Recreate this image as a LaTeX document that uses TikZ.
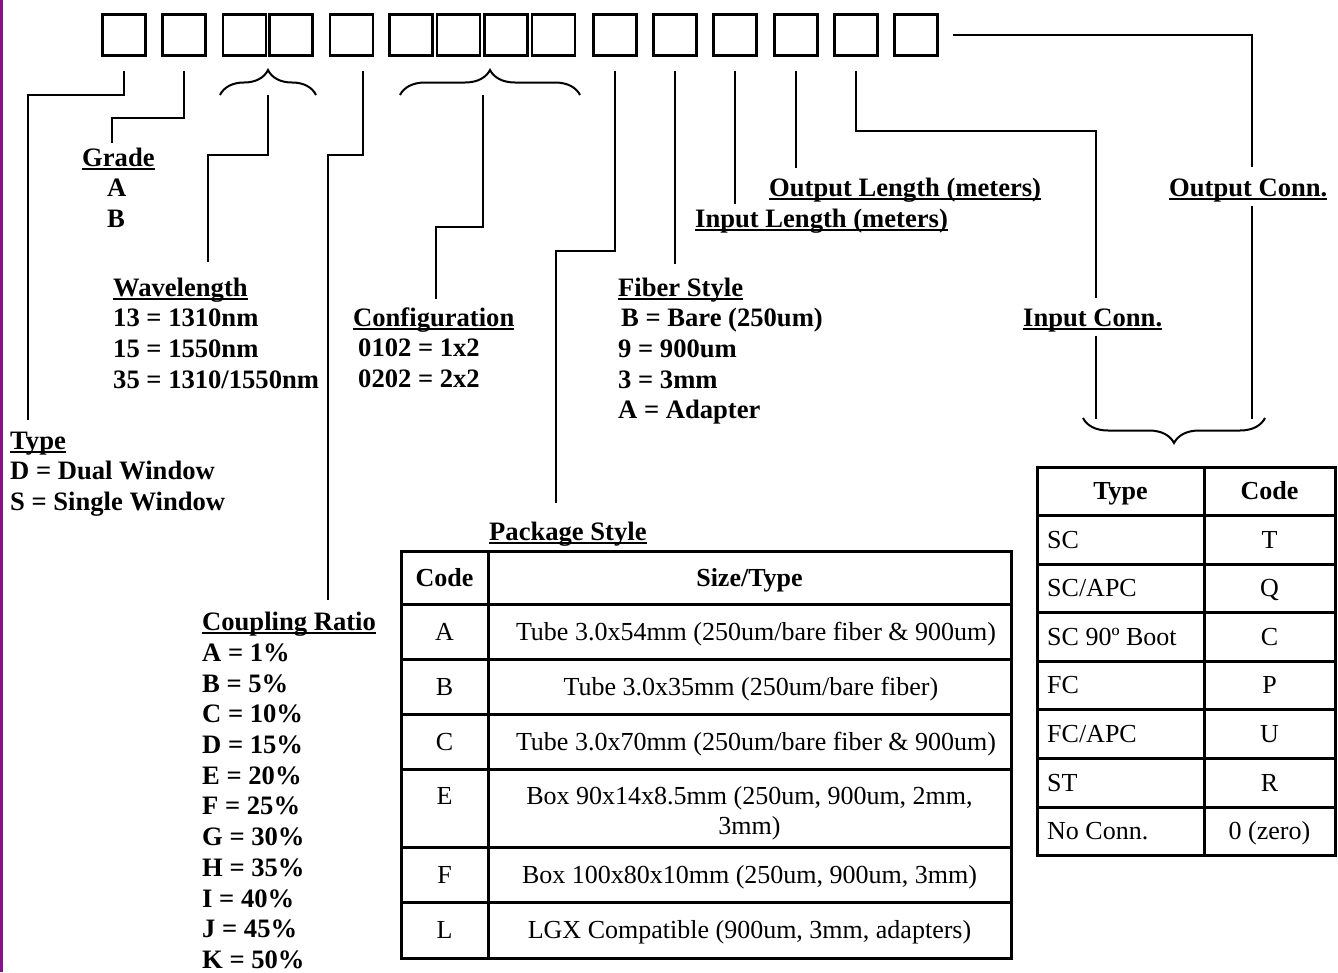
\documentclass[tikz,border=0pt]{standalone}
\usepackage{fontspec}
\setmainfont{Liberation Serif}
\usetikzlibrary{decorations.pathreplacing,positioning}

\definecolor{pagebar}{RGB}{136,16,140}
\newcommand{\lblfont}{\fontsize{26.6}{30.7}\selectfont\bfseries}
\newcommand{\cellfont}{\fontsize{26}{30}\selectfont}
\newcommand{\hdr}[1]{\setbox0\hbox{#1}\rlap{\rule[-3.5pt]{\wd0}{2pt}}\box0}

\begin{document}
\begin{tikzpicture}[x=1pt, y=-1pt,
    digit/.style={draw, line width=2.8pt, minimum width=43pt, minimum height=41pt, inner sep=0},
    lead/.style={line width=2pt},
    brc/.style={line width=2pt, decorate, decoration={brace, amplitude=25pt}},
    lbl/.style={anchor=north west, inner sep=0, align=left, font=\lblfont},
    tbl/.style={line width=3pt},
    cell/.style={anchor=base, inner sep=0, font=\cellfont},
    left cell/.style={anchor=base west, inner sep=0, font=\cellfont}]
                \useasboundingbox (0,0) rectangle (1338,972);
                \fill[pagebar] (0,0) rectangle (3,972);

                % part number boxes
                \foreach \n/\x in {1/124, 2/184, 3/244.5, 4/291, 5/351.5, 6/411, 7/458.5, 8/506, 9/553.5,
                                   10/615, 11/675, 12/735, 13/796, 14/856, 15/916}
                    \node[digit] (b\n) at (\x,35) {};

                % labels
                \node[lbl] (lGrade) at (82,144.5) {\strut\hdr{Grade}\\\hspace*{25pt}A\\\hspace*{25pt}B};
                \node[lbl] (lWave) at (113,274.5) {\strut\hdr{Wavelength}\\13 = 1310nm\\15 = 1550nm\\35 = 1310/1550nm};
                \node[lbl] (lConfig) at (353,304.5) {\strut\hdr{Configuration}\\\hspace*{5pt}0102 = 1x2\\\hspace*{5pt}0202 = 2x2};
                \node[lbl] (lFiber) at (618,274.5) {\strut\hdr{Fiber Style}\\\hspace*{3pt}B = Bare (250um)\\9 = 900um\\3 = 3mm\\A = Adapter};
                \node[lbl] (lOutLen) at (769,174.5) {\strut\hdr{Output Length (meters)}};
                \node[lbl] (lInLen) at (695,205.5) {\strut\hdr{Input Length (meters)}};
                \node[lbl] (lInConn) at (1023,304.5) {\strut\hdr{Input Conn.}};
                \node[lbl] (lOutConn) at (1169,174.5) {\strut\hdr{Output Conn.}};
                \node[lbl] (lType) at (10,427.5) {\strut\hdr{Type}\\D = Dual Window\\S = Single Window};
                \node[lbl] (lPack) at (489,518.5) {\strut\hdr{Package Style}};
                \node[lbl] (lRatio) at (202,609) {\strut\hdr{Coupling Ratio}\\A = 1\%\\B = 5\%\\C = 10\%\\D = 15\%\\E = 20\%\\F = 25\%\\G = 30\%\\H = 35\%\\I = 40\%\\J = 45\%\\K = 50\%};

                % braces
                \draw[brc] (220,95) -- (316,95);
                \draw[brc] (400,95) -- (580,95);
                \draw[brc] (1265,418) -- (1083,418);

                % leads
                \draw[lead] ([yshift=-14pt]b1.south) |- (28,95) -- (28,420);
                \draw[lead] ([yshift=-14pt]b2.south) |- (112,118) -- (112,143);
                \draw[lead] (b4.south west |- 0,95) |- (208,155) -- (208,262);
                \draw[lead] ([xshift=11.5pt, yshift=-14pt]b5.south) |- (328,155) -- (328,600);
                \draw[lead] (b8.south west |- 0,95) |- (436,227) -- (436,299);
                \draw[lead] ([yshift=-14pt]b10.south) |- (556,251) -- (556,503);
                \draw[lead] ([yshift=-14pt]b11.south) -- ++(0,193);
                \draw[lead] ([yshift=-14pt]b12.south) -- ++(0,133);
                \draw[lead] ([yshift=-14pt]b13.south) -- ++(0,97);
                \draw[lead] ([yshift=-14pt]b14.south) |- (1096,131) -- (1096,298);
                \draw[lead] (lInConn.south -| 1096,0) -- (1096,419);
                \draw[lead] ([xshift=14pt]b15.east) -| (1252,167);
                \draw[lead] (lOutConn.south -| 1252,0) -- (1252,419);

                % package style table
                \draw[tbl] (401,551) rectangle (1011,958);
                \draw[tbl] (488,551) -- (488,958);
                \foreach \y in {604,659,714,769,847,902}
                    \draw[tbl] (401,\y) -- (1011,\y);
                \node[cell, font=\cellfont\bfseries] (pCode) at (444.5,586) {Code};
                \node[cell, font=\cellfont\bfseries] (pSize) at (749.5,586) {Size/Type};
                \node[cell] (pA) at (444.5,640) {A};
                \node[cell] (pAt) at (756,640) {Tube 3.0x54mm (250um/bare fiber \& 900um)};
                \node[cell] (pB) at (444.5,695) {B};
                \node[cell] (pBt) at (751,695) {Tube 3.0x35mm (250um/bare fiber)};
                \node[cell] (pC) at (444.5,750) {C};
                \node[cell] (pCt) at (756,750) {Tube 3.0x70mm (250um/bare fiber \& 900um)};
                \node[cell] (pE) at (444.5,804.5) {E};
                \node[cell, anchor=north, align=center] (pEt) at (749.5,783.5) {\strut Box 90x14x8.5mm (250um, 900um, 2mm,\\3mm)};
                \node[cell] (pF) at (444.5,883) {F};
                \node[cell] (pFt) at (749.5,883) {Box 100x80x10mm (250um, 900um, 3mm)};
                \node[cell] (pL) at (444.5,938.5) {L};
                \node[cell] (pLt) at (749.5,938.5) {LGX Compatible (900um, 3mm, adapters)};

                % connector table
                \draw[tbl] (1037,467) rectangle (1335,855);
                \draw[tbl] (1204,467) -- (1204,855);
                \foreach \y in {515,564,612,661,709,758,807}
                    \draw[tbl] (1037,\y) -- (1335,\y);
                \node[cell, font=\cellfont\bfseries] (cType) at (1120.5,499.5) {Type};
                \node[cell, font=\cellfont\bfseries] (cCode) at (1269.5,499.5) {Code};
                \node[left cell] (cSC) at (1047,548) {SC};
                \node[cell] (cSCc) at (1269.5,548) {T};
                \node[left cell] (cSCA) at (1047,596.5) {SC/APC};
                \node[cell] (cSCAc) at (1269.5,596.5) {Q};
                \node[left cell] (cSC90) at (1047,645) {SC 90º Boot};
                \node[cell] (cSC90c) at (1269.5,645) {C};
                \node[left cell] (cFC) at (1047,693.5) {FC};
                \node[cell] (cFCc) at (1269.5,693.5) {P};
                \node[left cell] (cFCA) at (1047,742) {FC/APC};
                \node[cell] (cFCAc) at (1269.5,742) {U};
                \node[left cell] (cST) at (1047,791) {ST};
                \node[cell] (cSTc) at (1269.5,791) {R};
                \node[left cell] (cNo) at (1047,839.5) {No Conn.};
                \node[cell] (cNoc) at (1269.5,839.5) {0 (zero)};
            \end{tikzpicture}
\end{document}
